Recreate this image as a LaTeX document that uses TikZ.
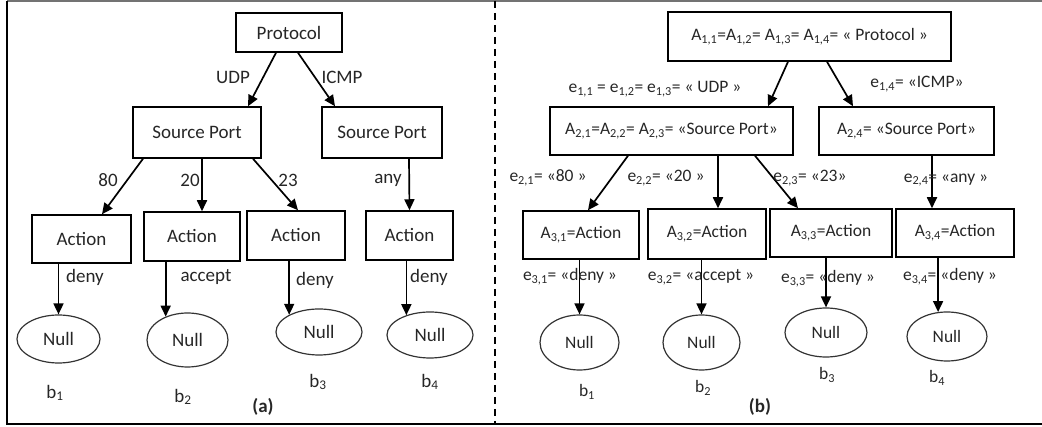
\documentclass[tikz,border=0pt]{standalone}
\usepackage{fontspec}
\setmainfont{Carlito}
\usetikzlibrary{arrows.meta,shapes.geometric}
\newcommand\sbs[1]{\textsubscript{#1}}
\begin{document}
\begin{tikzpicture}[x=1pt,y=-1pt,
  font=\fontsize{19}{21}\selectfont,
  every node/.append style={text=black!85},
  box/.style={draw=black, line width=1.5pt, inner sep=0pt},
  ell/.style={ellipse, draw=black!80, line width=1.2pt, inner sep=0pt},
  arr/.style={-{Triangle[length=11pt,width=10pt]}, line width=1.7pt},
  lbl/.style={inner sep=0pt},
  rfont/.style={font=\fontsize{17.5}{19}\selectfont}]
\useasboundingbox (0,0) rectangle (1042,427);
% frame
\draw[line width=1.5pt, black!55] (7,1) -- (1042,1);
\draw[line width=1.6pt] (7,1) -- (7,424) -- (1042,424);
\draw[line width=1.5pt, dash pattern=on 7pt off 5pt] (495,1) -- (495,424);

% ---------- (a) ----------
\node[box, minimum width=106pt, minimum height=39pt] (P) at (289,32.5) {Protocol};
\node[box, minimum width=128pt, minimum height=51pt] (S1) at (197,132.5) {Source Port};
\node[box, minimum width=120pt, minimum height=51pt] (S2) at (382,132.5) {Source Port};
\node[box, minimum width=99pt, minimum height=48pt] (Ac1) at (81.5,239) {Action};
\node[box, minimum width=96pt, minimum height=49pt] (Ac2) at (192,236.5) {Action};
\node[box, minimum width=98pt, minimum height=49pt] (Ac3) at (296,235.5) {Action};
\node[box, minimum width=87pt, minimum height=49pt] (Ac4) at (409.5,235.5) {Action};
\node[ell, minimum width=83pt, minimum height=48pt] (N1) at (58.5,339) {Null};
\node[ell, minimum width=81pt, minimum height=54pt] (N2) at (187.5,340) {Null};
\node[ell, minimum width=86pt, minimum height=46pt] (N3) at (319,332) {Null};
\node[ell, minimum width=86pt, minimum height=46pt] (N4) at (430,335) {Null};

\draw[arr] ([xshift=-13pt]P.south) -- ([xshift=51pt]S1.north);
\draw[arr] ([xshift=9pt]P.south) -- ([xshift=-47pt]S2.north);
\draw[arr] ([xshift=-54pt]S1.south) -- ([xshift=20.5pt]Ac1.north);
\draw[arr] ([xshift=5pt]S1.south) -- ([xshift=10pt]Ac2.north);
\draw[arr] ([xshift=56pt]S1.south) -- ([xshift=2pt]Ac3.north);
\draw[arr] ([xshift=27pt]S2.south) -- (Ac4.north);
\draw[arr] (N1.north |- Ac1.south) -- (N1.north);
\draw[arr] (N2.133 |- Ac2.south) -- (N2.133);
\draw[arr] (N3.150 |- Ac3.south) -- (N3.150);
\draw[arr] (N4.140 |- Ac4.south) -- (N4.140);

\node[lbl] (lUDP) at (233,77) {UDP};
\node[lbl] (lICMP) at (342,77) {ICMP};
\node[lbl] (l80) at (108,180) {80};
\node[lbl] (l20) at (190,180) {20};
\node[lbl] (l23) at (288,180) {23};
\node[lbl] (lany) at (388,180) {any};
\node[lbl] (ld1) at (85,277) {deny};
\node[lbl] (ld2) at (206,277) {accept};
\node[lbl] (ld3) at (315,280) {deny};
\node[lbl] (ld4) at (429,277) {deny};
\node[lbl] (lb1) at (55,393) {b\sbs{1}};
\node[lbl] (lb2) at (183,397) {b\sbs{2}};
\node[lbl] (lb3) at (318,382) {b\sbs{3}};
\node[lbl] (lb4) at (430,382) {b\sbs{4}};
\node[lbl, font=\fontsize{19}{21}\selectfont\bfseries] (la) at (263,407) {(a)};

% ---------- (b) ----------
\begin{scope}[rfont]
\node[box, minimum width=283pt, minimum height=49pt] (T) at (809.5,36.5) {A\sbs{1,1}=A\sbs{1,2}= A\sbs{1,3}= A\sbs{1,4}= « Protocol »};
\node[box, minimum width=243pt, minimum height=48pt] (R1) at (671.5,131) {A\sbs{2,1}=A\sbs{2,2}= A\sbs{2,3}= «Source Port»};
\node[box, minimum width=175pt, minimum height=48pt] (R2) at (906.5,131) {A\sbs{2,4}= «Source Port»};
\node[box, minimum width=116pt, minimum height=48pt] (B1) at (581,235) {A\sbs{3,1}=Action};
\node[box, minimum width=118pt, minimum height=50pt] (B2) at (707,234) {A\sbs{3,2}=Action};
\node[box, minimum width=122pt, minimum height=48pt] (B3) at (831,233) {A\sbs{3,3}=Action};
\node[box, minimum width=118pt, minimum height=48pt] (B4) at (955,233) {A\sbs{3,4}=Action};
\node[ell, minimum width=79pt, minimum height=55pt] (M1) at (579.5,342.5) {Null};
\node[ell, minimum width=77pt, minimum height=55pt] (M2) at (701.5,342.5) {Null};
\node[ell, minimum width=82pt, minimum height=49pt] (M3) at (826,332.5) {Null};
\node[ell, minimum width=80pt, minimum height=49pt] (M4) at (947,336.5) {Null};

\draw[arr] ([xshift=-21.5pt]T.south) -- ([xshift=96.5pt]R1.north);
\draw[arr] ([xshift=17.5pt]T.south) -- ([xshift=-53.5pt]R2.north);
\draw[arr] ([xshift=-43.5pt]R1.south) -- ([xshift=7pt]B1.north);
\draw[arr] ([xshift=46.5pt]R1.south) -- ([xshift=11pt]B2.north);
\draw[arr] ([xshift=83.5pt]R1.south) -- ([xshift=-33pt]B3.north);
\draw[arr] ([xshift=25.5pt]R2.south) -- ([xshift=-23pt]B4.north);
\draw[arr] (M1.north |- B1.south) -- (M1.north);
\draw[arr] (M2.north |- B2.south) -- (M2.north);
\draw[arr] (M3.north |- B3.south) -- (M3.north);
\draw[arr] (M4.110 |- B4.south) -- (M4.110);

\node[lbl] (e11) at (655,89) {e\sbs{1,1} = e\sbs{1,2}= e\sbs{1,3}= « UDP »};
\node[lbl] (e14) at (917,84) {e\sbs{1,4}= «ICMP»};
\node[lbl] (e21) at (548,178) {e\sbs{2,1}= «80 »};
\node[lbl] (e22) at (666,178) {e\sbs{2,2}= «20 »};
\node[lbl] (e23) at (810,178) {e\sbs{2,3}= «23»};
\node[lbl] (e24) at (946,180) {e\sbs{2,4}= «any »};
\node[lbl] (e31) at (570,277) {e\sbs{3,1}= «deny »};
\node[lbl] (e32) at (701,277) {e\sbs{3,2}= «accept »};
\node[lbl] (e33) at (828,279) {e\sbs{3,3}= «deny »};
\node[lbl] (e34) at (950,277) {e\sbs{3,4}= «deny »};
\node[lbl] (rb1) at (587,392) {b\sbs{1}};
\node[lbl] (rb2) at (703,388) {b\sbs{2}};
\node[lbl] (rb3) at (827,375) {b\sbs{3}};
\node[lbl] (rb4) at (937,378) {b\sbs{4}};
\end{scope}
\node[lbl, font=\fontsize{19}{21}\selectfont\bfseries] (lbb) at (760,407) {(b)};
\end{tikzpicture}
\end{document}
